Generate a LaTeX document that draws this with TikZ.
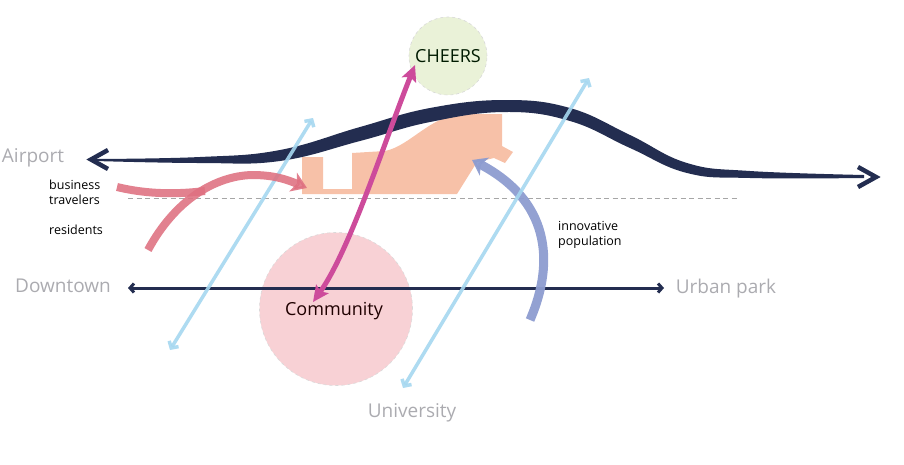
\documentclass[tikz,border=0pt]{standalone}
\usepackage{fontspec}
\setmainfont{Open Sans}
\usetikzlibrary{arrows.meta}

\definecolor{navy}{HTML}{232D50}
\definecolor{placegrey}{HTML}{ABABB0}
\definecolor{skyblue}{HTML}{A5D7F0}
\definecolor{rose}{HTML}{DE7080}
\definecolor{magentapath}{HTML}{CD4B9B}
\definecolor{lilac}{HTML}{8D9CD0}
\definecolor{peach}{HTML}{F7C1A8}
\definecolor{commpink}{HTML}{F8D1D5}
\definecolor{cheersgreen}{HTML}{EAF2D8}

\begin{document}
\begin{tikzpicture}[x=1pt,y=-1pt,line join=miter,
  place/.style={text=placegrey,inner sep=0pt,font=\fontsize{19}{21}\selectfont},
  note/.style={text=black,inner sep=0pt,align=left,anchor=west,font=\fontsize{12.5}{15}\selectfont},
  hub/.style={circle,draw=black!15,dashed,line width=.6pt,inner sep=0pt,font=\fontsize{18}{20}\selectfont},
  sky/.style={draw=skyblue,opacity=.9,line width=3.5pt,{Straight Barb[length=5pt,width=11pt]}-{Straight Barb[length=5pt,width=11pt]}},
  flow/.style={line width=8pt,opacity=.88}]
\useasboundingbox (0,0) rectangle (904,464);

% ground line
\draw[gray!70,line width=.8pt,dash pattern=on 5pt off 3.5pt] (128,198) -- (738,198);

% CHEERS building
\fill[peach] (302,194) -- (302,157) -- (323,157) -- (323,189) -- (352,189) -- (352,153) -- (385,151)
  .. controls (410,146) and (430,116) .. (462,114) -- (502,114) -- (502,146) -- (513,152) -- (505,163)
  -- (494,158) -- (477,162) -- (457,194) -- cycle;

% main axis airport -- urban park
\fill[navy] plot[smooth,tension=.7] coordinates {(95,159) (200,157) (280,150) (360,127) (430,108)
  (505,100) (570,108) (630,135) (687,163) (750,171) (864,175)}
  -- plot[smooth,tension=.7] coordinates {(864,178) (750,178) (687,173) (630,148) (570,121)
  (505,112) (430,122) (360,141) (280,161) (200,163) (95,161)} -- cycle;
\draw[navy,line width=4.5pt] (108,150) -- (91,159.5) -- (108,169);
\draw[navy,line width=4.5pt] (858,167) -- (876,177) -- (858,187);

% hubs
\node[hub,fill=commpink,minimum size=153pt] (community) at (336,309) {};
\node[text=black!70!red!40!black,font=\fontsize{18}{20}\selectfont] (commtext) at (334,311) {Community};
\node[hub,fill=cheersgreen,minimum size=78pt,text=black!70!green!35!black] (cheers) at (448,56) {CHEERS};

% places
\node[place] (airport) at (33,158) {Airport};
\node[place] (downtown) at (63,286) {Downtown};
\node[place] (park) at (726,289) {Urban park};
\node[place] (university) at (412,413) {University};

\coordinate (dtend) at (128,288);
\coordinate (parkend) at (664,288);
\draw[navy,line width=3pt,{Straight Barb[length=4pt,width=9pt]}-{Straight Barb[length=4pt,width=9pt]}] (dtend) -- (parkend);

% people
\node[note] (business) at (49,192) {business\\travelers};
\node[note] (residents) at (49,230) {residents};
\node[note] (innovative) at (558,235) {innovative\\population};

\coordinate (innostart) at (530,320);
\coordinate (innotip) at (472,160);
\draw[lilac,line width=9pt,opacity=.95,-{Stealth[length=14pt,width=20pt,inset=4pt]}] (innostart)
  .. controls (556,260) and (548,200) .. (innotip);

\coordinate (skyAlow) at (170,350);
\coordinate (skyAtop) at (313,118);
\coordinate (skyBlow) at (403,388);
\coordinate (skyBtop) at (589,78);
\draw[sky] (skyAlow) -- (skyAtop);
\draw[sky] (skyBlow) -- (skyBtop);

\coordinate (busstart) at (117,187);
\coordinate (busend) at (205,191);
\coordinate (resstart) at (148,250);
\coordinate (restip) at (307,188);
\draw[rose,flow] (busstart) .. controls (150,195) and (180,194) .. (busend);
\draw[rose,flow,-{Stealth[length=15pt,width=20pt,inset=4pt]}] (resstart)
  .. controls (175,200) and (215,176) .. (252,175) .. controls (275,175) and (288,180) .. (restip);

\coordinate (commtip) at (313,302);
\coordinate (cheerstip) at (415,65);
\draw[magentapath,line width=5pt,{Stealth[length=16pt,width=15pt,inset=3pt]}-{Stealth[length=16pt,width=15pt,inset=3pt]}]
  (commtip) .. controls (350,250) and (385,140) .. (cheerstip);
\end{tikzpicture}
\end{document}
